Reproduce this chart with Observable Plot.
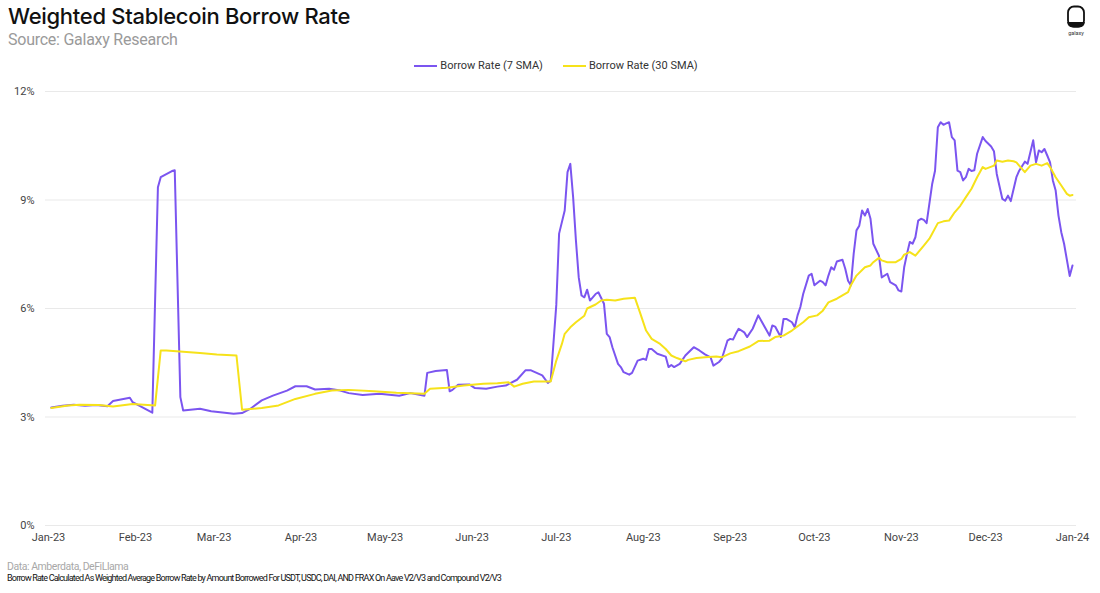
<!DOCTYPE html>
<html>
<head>
<meta charset="utf-8">
<script src="https://cdn.jsdelivr.net/npm/d3@7"></script>
<script src="https://cdn.jsdelivr.net/npm/@observablehq/plot@0.6"></script>
<style>
  html, body { margin: 0; padding: 0; background: #fff; }
  #wrap { position: relative; width: 1100px; height: 593px; overflow: hidden; font-family: Roboto, "Noto Sans", sans-serif; }
  .abs { position: absolute; white-space: nowrap; }
  #title { left: 8px; top: 3px; font-family: Inter, Roboto, sans-serif; font-size: 22px; font-weight: 500; color: #111; letter-spacing: -0.3px; }
  #subtitle { left: 8px; top: 30px; font-size: 16px; color: #9a9a9a; letter-spacing: -0.25px; }
  #legend { left: 6px; top: 59px; width: 1100px; display: flex; justify-content: center; gap: 20px; font-size: 11px; color: #333; }
  .li { display: flex; align-items: center; gap: 3px; }
  .sw { width: 23px; height: 2px; display: inline-block; }
  #chart { left: 0; top: 80px; }
  #data { left: 7px; top: 560px; font-size: 10.5px; color: #a8a8a8; letter-spacing: -0.45px; }
  #note { left: 7px; top: 573px; font-size: 9px; color: #111; letter-spacing: -0.8px; }
  #logo { left: 1060px; top: 2px; }
</style>
</head>
<body>
<div id="wrap">
  <div id="title" class="abs">Weighted Stablecoin Borrow Rate</div>
  <div id="subtitle" class="abs">Source: Galaxy Research</div>
  <div id="legend" class="abs"></div>
  <div id="chart" class="abs"></div>
  <div id="data" class="abs">Data: Amberdata, DeFiLlama</div>
  <div id="note" class="abs">Borrow Rate Calculated As Weighted Average Borrow Rate by Amount Borrowed For USDT, USDC, DAI, AND FRAX On Aave V2/V3 and Compound V2/V3</div>
  <svg id="logo" class="abs" width="34" height="38" viewBox="0 0 34 38">
    <rect x="8" y="4.5" width="16" height="20" rx="6" ry="6" fill="none" stroke="#111" stroke-width="1.8"/>
    <path d="M7.2 20 L24.8 20 Q24.6 25.4 19 25.4 L13 25.4 Q7.4 25.4 7.2 20 Z" fill="#111"/>
    <text x="16" y="33" text-anchor="middle" font-size="5.5" font-family="Roboto" fill="#333">galaxy</text>
  </svg>
</div>
<script>
// ---- Data ----
const seriesNames = ["Borrow Rate (7 SMA)", "Borrow Rate (30 SMA)"];
const seriesColors = ["#7b55f0", "#f6e21a"];
const yTicks = [0, 3, 6, 9, 12];

const dates7 = ["2023-01-02","2023-01-06","2023-01-10","2023-01-14","2023-01-18","2023-01-22","2023-01-24","2023-01-30","2023-01-31","2023-02-07","2023-02-09","2023-02-10","2023-02-14","2023-02-15","2023-02-17","2023-02-18","2023-02-24","2023-02-28","2023-03-08","2023-03-11","2023-03-14","2023-03-18","2023-03-22","2023-03-27","2023-03-30","2023-04-03","2023-04-06","2023-04-11","2023-04-15","2023-04-18","2023-04-23","2023-04-29","2023-05-06","2023-05-10","2023-05-15","2023-05-16","2023-05-19","2023-05-23","2023-05-24","2023-05-25","2023-05-27","2023-05-31","2023-06-02","2023-06-06","2023-06-10","2023-06-13","2023-06-17","2023-06-20","2023-06-22","2023-06-26","2023-06-28","2023-06-29","2023-07-01","2023-07-02","2023-07-04","2023-07-05","2023-07-06","2023-07-07","2023-07-08","2023-07-09","2023-07-10","2023-07-11","2023-07-12","2023-07-13","2023-07-15","2023-07-16","2023-07-18","2023-07-19","2023-07-20","2023-07-21","2023-07-23","2023-07-24","2023-07-25","2023-07-27","2023-07-28","2023-07-30","2023-08-01","2023-08-02","2023-08-03","2023-08-04","2023-08-06","2023-08-09","2023-08-10","2023-08-11","2023-08-12","2023-08-14","2023-08-16","2023-08-19","2023-08-21","2023-08-23","2023-08-25","2023-08-26","2023-08-28","2023-08-29","2023-08-31","2023-09-01","2023-09-02","2023-09-03","2023-09-04","2023-09-06","2023-09-07","2023-09-09","2023-09-11","2023-09-12","2023-09-14","2023-09-15","2023-09-16","2023-09-17","2023-09-19","2023-09-20","2023-09-21","2023-09-23","2023-09-24","2023-09-25","2023-09-26","2023-09-27","2023-09-29","2023-09-30","2023-10-01","2023-10-03","2023-10-04","2023-10-05","2023-10-06","2023-10-07","2023-10-08","2023-10-09","2023-10-11","2023-10-12","2023-10-13","2023-10-14","2023-10-15","2023-10-16","2023-10-17","2023-10-18","2023-10-19","2023-10-20","2023-10-21","2023-10-22","2023-10-24","2023-10-25","2023-10-27","2023-10-28","2023-10-30","2023-10-31","2023-11-01","2023-11-02","2023-11-03","2023-11-04","2023-11-05","2023-11-06","2023-11-07","2023-11-08","2023-11-09","2023-11-10","2023-11-12","2023-11-13","2023-11-14","2023-11-15","2023-11-16","2023-11-17","2023-11-18","2023-11-19","2023-11-20","2023-11-21","2023-11-22","2023-11-23","2023-11-24","2023-11-25","2023-11-26","2023-11-27","2023-11-28","2023-11-30","2023-12-01","2023-12-03","2023-12-04","2023-12-05","2023-12-07","2023-12-08","2023-12-09","2023-12-10","2023-12-12","2023-12-13","2023-12-15","2023-12-16","2023-12-18","2023-12-19","2023-12-20","2023-12-21","2023-12-22","2023-12-23","2023-12-24","2023-12-25","2023-12-26","2023-12-27","2023-12-28","2023-12-29","2023-12-31","2024-01-01"];
const rate7 = [3.26,3.31,3.34,3.31,3.33,3.30,3.44,3.53,3.41,3.12,9.35,9.63,9.80,9.82,3.55,3.18,3.23,3.16,3.09,3.11,3.23,3.46,3.59,3.73,3.85,3.85,3.76,3.78,3.73,3.66,3.61,3.64,3.59,3.66,3.59,4.22,4.27,4.30,3.71,3.75,3.89,3.90,3.80,3.78,3.84,3.87,4.03,4.29,4.29,4.15,3.94,4.00,6.10,8.07,8.71,9.77,10.00,9.08,7.88,6.86,6.36,6.31,6.52,6.22,6.40,6.45,6.13,5.30,5.21,4.93,4.47,4.38,4.24,4.17,4.22,4.56,4.61,4.58,4.88,4.88,4.75,4.67,4.38,4.44,4.38,4.47,4.70,4.93,4.84,4.73,4.65,4.42,4.52,4.61,5.11,5.16,5.14,5.30,5.44,5.34,5.21,5.44,5.81,5.67,5.39,5.25,5.53,5.50,5.21,5.71,5.71,5.62,5.48,5.81,6.04,6.40,6.91,6.96,6.64,6.77,6.73,6.64,6.91,7.14,7.07,7.30,7.35,7.10,6.77,6.64,7.51,8.16,8.29,8.71,8.57,8.75,8.48,7.79,7.46,6.86,6.96,6.73,6.64,6.50,6.47,7.14,7.51,7.84,7.79,7.97,8.43,8.48,8.45,8.36,9.45,9.81,11.01,11.15,11.08,11.12,11.15,10.74,10.65,9.81,9.77,9.54,9.63,9.86,9.80,9.82,10.28,10.74,10.63,10.48,10.35,9.72,9.03,8.98,9.12,8.97,9.63,9.81,10.06,10.00,10.65,10.04,10.37,10.32,10.41,10.23,10.04,9.54,9.26,8.57,8.11,7.79,6.90,7.19];

const dates30 = ["2023-01-02","2023-01-08","2023-01-12","2023-01-19","2023-01-24","2023-01-31","2023-02-08","2023-02-10","2023-02-12","2023-02-24","2023-03-02","2023-03-09","2023-03-11","2023-03-18","2023-03-24","2023-03-30","2023-04-06","2023-04-12","2023-04-18","2023-04-27","2023-05-05","2023-05-15","2023-05-17","2023-05-23","2023-05-29","2023-06-05","2023-06-10","2023-06-14","2023-06-16","2023-06-19","2023-06-23","2023-06-26","2023-06-29","2023-07-01","2023-07-03","2023-07-04","2023-07-06","2023-07-08","2023-07-11","2023-07-12","2023-07-15","2023-07-17","2023-07-19","2023-07-22","2023-07-25","2023-07-29","2023-07-31","2023-08-02","2023-08-04","2023-08-07","2023-08-09","2023-08-11","2023-08-13","2023-08-16","2023-08-17","2023-08-20","2023-08-23","2023-08-27","2023-08-29","2023-09-01","2023-09-04","2023-09-08","2023-09-11","2023-09-15","2023-09-17","2023-09-20","2023-09-23","2023-09-27","2023-09-29","2023-10-02","2023-10-04","2023-10-06","2023-10-09","2023-10-11","2023-10-13","2023-10-14","2023-10-16","2023-10-19","2023-10-21","2023-10-22","2023-10-24","2023-10-25","2023-10-27","2023-10-30","2023-11-01","2023-11-02","2023-11-04","2023-11-06","2023-11-09","2023-11-11","2023-11-14","2023-11-16","2023-11-18","2023-11-20","2023-11-22","2023-11-24","2023-11-26","2023-11-28","2023-11-30","2023-12-01","2023-12-04","2023-12-05","2023-12-07","2023-12-09","2023-12-11","2023-12-12","2023-12-14","2023-12-15","2023-12-17","2023-12-19","2023-12-21","2023-12-23","2023-12-24","2023-12-26","2023-12-28","2023-12-30","2023-12-31","2024-01-01"];
const rate30 = [3.25,3.32,3.34,3.33,3.29,3.36,3.32,4.84,4.84,4.77,4.73,4.70,3.20,3.25,3.32,3.50,3.64,3.73,3.75,3.71,3.67,3.64,3.78,3.81,3.87,3.92,3.93,3.96,3.84,3.92,3.98,3.98,3.98,4.56,5.02,5.30,5.48,5.62,5.80,6.00,6.11,6.22,6.24,6.22,6.27,6.30,5.85,5.39,5.16,5.02,4.88,4.70,4.63,4.54,4.58,4.63,4.65,4.67,4.65,4.76,4.82,4.95,5.10,5.11,5.21,5.25,5.39,5.62,5.76,5.81,5.94,6.17,6.27,6.36,6.45,6.64,6.91,7.14,7.19,7.28,7.40,7.33,7.28,7.28,7.37,7.49,7.56,7.46,7.74,7.93,8.36,8.41,8.43,8.66,8.84,9.08,9.31,9.63,9.91,9.86,9.95,10.09,10.06,10.09,10.07,10.04,9.86,9.77,9.95,10.00,9.95,10.02,9.91,9.63,9.40,9.17,9.12,9.14];

// ---- Build table ----
const parse = d3.utcParse("%Y-%m-%d");
const rows = [
  ...dates7.map((d, i) => ({date: parse(d), value: rate7[i], series: seriesNames[0]})),
  ...dates30.map((d, i) => ({date: parse(d), value: rate30[i], series: seriesNames[1]}))
];

// ---- Legend ----
const legend = document.getElementById("legend");
seriesNames.forEach((name, i) => {
  const item = document.createElement("div");
  item.className = "li";
  item.innerHTML = `<span class="sw" style="background:${seriesColors[i]}"></span><span>${name}</span>`;
  legend.appendChild(item);
});

// ---- Chart ----
const chart = Plot.plot({
  width: 1100,
  height: 470,
  marginLeft: 48,
  marginRight: 28,
  marginTop: 11,
  marginBottom: 25,
  style: {fontFamily: "Roboto, sans-serif", fontSize: "11px", color: "#444", background: "#fff"},
  x: {type: "utc", domain: [parse("2023-01-01"), parse("2024-01-01")]},
  y: {domain: [0, 12]},
  color: {domain: seriesNames, range: seriesColors},
  marks: [
    Plot.ruleY(yTicks, {stroke: "#e9e9e9", strokeWidth: 1, insetLeft: -3, insetRight: -4}),
    Plot.axisY({ticks: yTicks, tickSize: 0, tickPadding: 14, tickFormat: d => d + "%", label: null}),
    Plot.axisX({ticks: d3.utcMonth.every(1), tickSize: 0, tickPadding: 8, tickFormat: d3.utcFormat("%b-%y"), label: null}),
    Plot.lineY(rows.filter(r => r.series === seriesNames[0]), {x: "date", y: "value", stroke: "series", strokeWidth: 2, curve: "linear"}),
    Plot.lineY(rows.filter(r => r.series === seriesNames[1]), {x: "date", y: "value", stroke: "series", strokeWidth: 2, curve: "linear"})
  ]
});
document.getElementById("chart").appendChild(chart);
</script>
</body>
</html>
